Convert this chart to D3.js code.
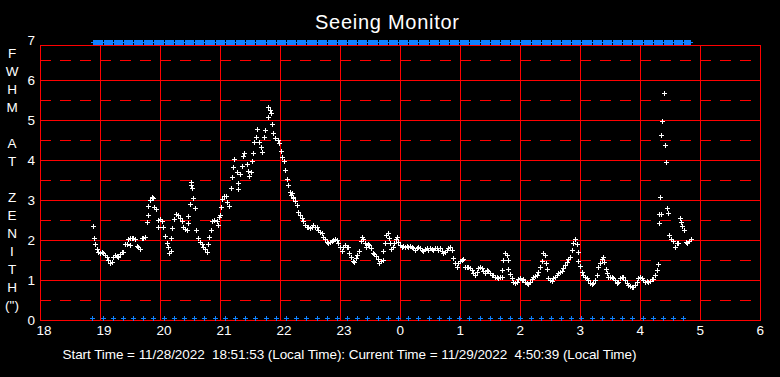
<!DOCTYPE html>
<html><head><meta charset="utf-8">
<script src="https://cdn.jsdelivr.net/npm/d3@7"></script>
<style>
html,body{margin:0;padding:0;background:#000;}
svg{display:block;background:#000;}
text{font-family:"Liberation Sans",Arial,sans-serif;fill:#fff;}
</style></head><body>
<svg id="chart" width="780" height="377"></svg>
<script>
// ---------------- data ----------------
const chartTitle = "Seeing Monitor";
const footerText = "Start Time = 11/28/2022  18:51:53 (Local Time): Current Time = 11/29/2022  4:50:39 (Local Time)";
const yTitleLetters = ["F","W","H","M","","A","T","","Z","E","N","I","T","H","(\")"];

// x axis: minutes after 18:00 local time
const hourTicks  = [0,60,120,180,240,300,360,420,480,540,600,660,720];
const hourLabels = ["18","19","20","21","22","23","0","1","2","3","4","5","6"];
// y axis: FWHM at zenith (arcsec)
const fwhmTicks  = [0,1,2,3,4,5,6,7];
const fwhmLabels = ["0","1","2","3","4","5","6","7"];
const halfTicks  = [0.5,1.5,2.5,3.5,4.5,5.5,6.5];

// [minutes after 18:00, FWHM]
const fwhmSamples = [
[53.3,2.35],[54.3,2.05],[55.3,1.9],[56.7,1.77],[58.3,1.71],[60,1.67],[61.7,1.69],[63.3,1.67],[65,1.63],[66.7,1.58],
[68.3,1.5],[70,1.42],[71.7,1.46],[73.3,1.58],[75,1.63],[76.7,1.6],[78.3,1.58],[80,1.65],[81.7,1.69],[83.3,1.71],
[85,1.9],[86.7,1.9],[88.3,2.02],[90,2.04],[91.7,2.06],[93.3,2.04],[95,2.02],[90,1.87],[96.7,1.85],[98.3,1.83],
[100,1.77],[101.7,2.04],[103.3,2.06],[105,2.08],[106.7,2.44],[108.3,2.63],[108.3,2.86],[110,3.0],[111.7,3.08],[113.3,3.04],
[114.3,2.83],[116,2.78],[118.3,2.5],[120,2.52],[121.7,2.48],[118.3,2.32],[122.7,2.32],[125.3,2.1],[126.7,1.93],[127.7,1.82],
[129.3,1.67],[131,1.72],[131.3,2.06],[132.3,2.3],[133.7,2.52],[136,2.65],[137.7,2.63],[139.7,2.56],[141.7,2.48],[143.3,2.33],
[145,2.27],[146.7,2.25],[147.7,2.42],[148.3,2.6],[149.7,2.9],[151,3.38],[152.3,3.29],[150.7,3.46],[153.3,3.04],[155.3,2.79],
[156.3,2.25],[158.3,2.04],[160,1.96],[161.7,1.9],[163.3,1.83],[165,1.77],[166.7,1.71],[168.3,1.9],[169.3,2.07],[170.7,2.25],
[172.3,2.48],[174.3,2.49],[176.7,2.48],[177.7,2.38],[179,2.57],[180.3,2.63],[181.3,2.83],[182.3,3.02],[183.7,3.1],[185.7,3.1],
[187.3,2.96],[189,2.85],[190.7,3.29],[192,3.58],[193,3.82],[194.3,4.03],[196.7,3.71],[198.3,3.27],[198.3,3.42],[200,3.65],
[201.7,3.85],[203.3,4.1],[204.3,4.17],[206.7,3.9],[207.7,3.73],[209,3.6],[210.7,3.71],[212.3,3.98],[213.3,4.17],[214.3,4.46],
[216.3,4.58],[217.3,4.77],[219,4.46],[221,4.32],[222.3,4.21],[223.7,4.57],[225,4.75],[227.7,5.07],[228.3,5.32],[230,5.25],
[231,5.17],[232.3,4.9],[233.3,4.68],[235,4.54],[237.7,4.5],[239.3,4.43],[240.7,4.23],[242.3,4.08],[243.7,3.98],[245,3.75],
[247,3.52],[248.3,3.38],[249.7,3.21],[251,3.13],[253,3.04],[251.7,3.17],[253.3,3.08],[255,2.98],[256.7,2.88],[258.3,2.71],
[260,2.63],[261.7,2.54],[263.3,2.48],[265,2.38],[266.7,2.33],[268.3,2.32],[270,2.29],[271.7,2.33],[273.3,2.38],[275,2.33],
[276.7,2.32],[278.3,2.25],[280,2.21],[281.7,2.18],[283.3,2.08],[285,2.02],[286.7,1.96],[288.3,1.92],[290,1.94],[291.7,1.98],
[293.3,2.0],[295,2.02],[296.7,2.0],[298.3,1.92],[300,1.83],[301.7,1.73],[303.3,1.82],[305,1.88],[306.7,1.83],[308.3,1.83],
[309.3,1.68],[311,1.58],[312.7,1.48],[314.3,1.46],[315.7,1.54],[317.3,1.63],[319,1.73],[320.7,1.98],[321.7,2.08],[323.3,2.02],
[325,1.92],[326,1.83],[327.7,1.9],[329.3,1.88],[331,1.81],[332.7,1.67],[334.3,1.65],[336,1.6],[337.7,1.53],[339.3,1.43],
[341,1.48],[342.7,1.5],[343.3,1.73],[344.7,1.92],[346,2.13],[347.7,2.18],[349.3,2.04],[350,1.92],[351.3,1.77],[352.7,1.83],
[354,1.92],[355.7,2.02],[357.3,2.08],[358.3,1.96],[360,1.88],[361.7,1.83],[363.3,1.85],[365,1.83],[366.7,1.85],[368.3,1.82],
[370,1.85],[371.7,1.83],[373.3,1.81],[375,1.75],[376.7,1.79],[378.3,1.83],[380,1.79],[381.7,1.75],[383.3,1.73],[385,1.77],
[386.7,1.79],[388.3,1.75],[390,1.79],[391.7,1.77],[393.3,1.75],[395,1.79],[396.7,1.79],[398.3,1.75],[400,1.79],[401.7,1.73],
[403.3,1.68],[405,1.71],[406.7,1.75],[408.3,1.79],[410,1.83],[411.7,1.75],[413.3,1.54],[415,1.42],[416.7,1.32],[418.3,1.42],
[420,1.48],[421.7,1.5],[423.3,1.52],[425,1.33],[426.7,1.32],[428.3,1.32],[430,1.29],[431.7,1.25],[433.3,1.18],[435,1.13],
[436.7,1.21],[438.3,1.29],[440,1.33],[441.7,1.29],[443.3,1.23],[445,1.18],[446.7,1.25],[448.3,1.23],[450,1.17],[451.7,1.13],
[453.3,1.13],[455,1.08],[456.7,1.07],[458.3,1.04],[460,1.08],[461.7,1.25],[462.3,1.08],[463.3,1.5],[465,1.67],[466.7,1.63],
[467.7,1.5],[468.3,1.27],[470,1.15],[471.7,1.04],[473.3,0.96],[475,0.92],[476.7,0.96],[478.3,1.02],[480,1.04],[481.7,1.0],
[483.3,1.02],[485,0.96],[486.7,0.93],[488.3,0.9],[490,0.96],[491.7,1.02],[493.3,1.07],[495,1.1],[496.7,1.13],[498.3,1.21],
[500,1.33],[501.7,1.48],[503.3,1.67],[505,1.63],[505.7,1.42],[507.3,1.27],[508.3,1.04],[510,1.0],[511.7,0.98],[513.3,1.04],
[515,1.08],[516.7,1.13],[518.3,1.17],[520,1.21],[521.7,1.23],[523.3,1.29],[525,1.38],[526.7,1.46],[528.3,1.52],[530,1.57],
[531.7,1.75],[533.3,1.92],[535,2.02],[536.7,1.9],[537.7,1.71],[538.3,1.48],[540,1.35],[541.7,1.21],[543.3,1.13],[545,1.08],
[546.7,1.04],[548.3,1.0],[550,0.93],[551.7,0.9],[553.3,0.93],[555,1.0],[556.7,1.13],[558.3,1.32],[560,1.43],[561.7,1.52],
[563.3,1.57],[564.3,1.46],[565.7,1.27],[567,1.17],[568.3,1.08],[570,1.07],[571.7,1.08],[573.3,1.04],[575,1.0],[576.7,0.92],
[578.3,0.96],[580,1.04],[581.7,1.08],[583.3,1.07],[585,1.0],[586.7,0.93],[588.3,0.88],[590,0.85],[591.7,0.83],[593.3,0.82],
[595,0.88],[596.7,0.96],[598.3,1.04],[600,1.08],[601.7,1.04],[603.3,1.0],[605,0.96],[606.7,0.98],[608.3,0.96],[610,0.98],
[611.7,1.02],[613.3,1.02],[615,1.13],[616.7,1.25],[618.3,1.4],[619.3,2.42],[619.3,2.64],[620.3,3.07],[621,2.65],[621.3,4.62],
[622.3,4.97],[624.3,5.67],[625.3,4.37],[626.3,3.94],[627.3,2.79],[628.3,2.67],[629,2.13],[631,2.02],[632.7,1.98],[635,1.83],
[636.7,1.92],[638.3,1.93],[640,2.54],[641,2.46],[642.3,2.35],[644.3,2.25],[645.7,1.96],[647.3,1.92],[649,1.98],[650.7,2.02]
];

// status flag times (minutes after 18:00)
const flagMinutes = [52.3,62.5,72.7,82.9,93.1,103.3,113.4,123.6,133.8,144.0,154.2,164.4,174.6,184.8,195.0,205.2,215.3,225.5,
235.7,245.9,256.1,266.3,276.5,286.7,296.9,307.1,317.2,327.4,337.6,347.8,358.0,368.2,378.4,388.6,398.8,409.0,419.1,429.3,
439.5,449.7,459.9,470.1,480.3,490.5,500.7,510.9,521.0,531.2,541.4,551.6,561.8,572.0,582.2,592.4,602.6,612.8,622.9,633.1,643.3];

// ---------------- drawing ----------------
const svg = d3.select("#chart");
const x = d3.scaleLinear().domain([0, 720]).range([40, 760]);
const y = d3.scaleLinear().domain([0, 7]).range([320, 40]);
const RED = "#ff0000", BLUE = "#0f82ff";
const frameTop = y(7) + 5;
const px = v => Math.round(v) + 0.5;

const grid = svg.append("g").attr("shape-rendering", "crispEdges");
// dashed half lines
grid.selectAll(".half").data(halfTicks).join("line")
  .attr("x1", x(0)).attr("x2", x(720))
  .attr("y1", d => px(y(d))).attr("y2", d => px(y(d)))
  .attr("stroke", RED).attr("stroke-width", 1).attr("stroke-dasharray", "11,9");
// solid horizontal lines
grid.selectAll(".hline").data(fwhmTicks.filter(d => d > 0 && d < 7)).join("line")
  .attr("x1", x(0)).attr("x2", x(720))
  .attr("y1", d => px(y(d))).attr("y2", d => px(y(d)))
  .attr("stroke", RED).attr("stroke-width", 1);
// vertical hour lines
grid.selectAll(".vline").data(hourTicks).join("line")
  .attr("x1", d => px(x(d))).attr("x2", d => px(x(d)))
  .attr("y1", frameTop).attr("y2", y(0))
  .attr("stroke", RED).attr("stroke-width", 1);
// frame top & bottom
grid.append("line").attr("x1", x(0)).attr("x2", x(720) + 1)
  .attr("y1", px(frameTop)).attr("y2", px(frameTop)).attr("stroke", RED);
grid.append("line").attr("x1", x(0)).attr("x2", x(720) + 1)
  .attr("y1", px(y(0))).attr("y2", px(y(0))).attr("stroke", RED);

// top status band
const lastT = fwhmSamples[fwhmSamples.length - 1][0];
const bandEnds = flagMinutes.map((d, i) => i < flagMinutes.length - 1 ? flagMinutes[i + 1] : lastT);
const band = svg.append("g").attr("shape-rendering", "crispEdges");
band.append("rect").attr("x", x(flagMinutes[0]) - 1.5).attr("y", y(7) + 2)
  .attr("width", x(lastT) + 2 - (x(flagMinutes[0]) - 1.5)).attr("height", 1).attr("fill", BLUE);
band.selectAll(".seg").data(flagMinutes).join("rect")
  .attr("x", d => Math.round(x(d)) + 1)
  .attr("y", y(7))
  .attr("width", (d, i) => Math.max(1, Math.round(x(bandEnds[i])) - Math.round(x(d)) - 1))
  .attr("height", 5).attr("fill", BLUE);

// bottom status markers
const plus = "M-2.5,0H2.5M0,-2.5V2.5";
svg.append("g").selectAll("path").data(flagMinutes).join("path")
  .attr("d", plus)
  .attr("transform", d => `translate(${px(x(d))},${px(y(0) - 2.5)})`)
  .attr("stroke", BLUE).attr("stroke-width", 1).attr("fill", "none")
  .attr("shape-rendering", "crispEdges");

// FWHM samples
svg.append("g").selectAll("path").data(fwhmSamples).join("path")
  .attr("d", plus)
  .attr("transform", d => `translate(${px(x(d[0]))},${px(y(d[1]))})`)
  .attr("stroke", "#fff").attr("stroke-width", 1).attr("fill", "none")
  .attr("shape-rendering", "crispEdges");

// axes (labels only)
const xAxis = d3.axisBottom(x).tickValues(hourTicks)
  .tickFormat((d, i) => hourLabels[i]).tickSize(0);
const gx = svg.append("g").attr("transform", `translate(0,${y(0)})`).call(xAxis);
gx.select(".domain").remove();
gx.attr("font-size", null).attr("font-family", null);
gx.selectAll("text").attr("y", 15).attr("dy", null).attr("x", -4)
  .attr("text-anchor", "start").style("font-size", "13.5px").attr("fill", "#fff");

const yAxis = d3.axisLeft(y).tickValues(fwhmTicks)
  .tickFormat((d, i) => fwhmLabels[i]).tickSize(0).tickPadding(0);
const gy = svg.append("g").attr("transform", "translate(35,0)").call(yAxis);
gy.select(".domain").remove();
gy.attr("font-size", null).attr("font-family", null);
gy.selectAll("text").attr("dy", "0.36em").attr("x", 0)
  .style("font-size", "13.5px").attr("fill", "#fff");

// vertical axis title (stacked letters)
svg.append("g").selectAll("text").data(yTitleLetters).join("text")
  .attr("x", 12).attr("y", (d, i) => 57.5 + i * 18)
  .attr("text-anchor", "middle").style("font-size", "13.5px")
  .text(d => d);

// title
svg.append("text").attr("x", 387).attr("y", 29.3).attr("text-anchor", "middle")
  .style("font-size", "20px").attr("textLength", 144).attr("lengthAdjust", "spacing")
  .text(chartTitle);

// footer
svg.append("text").attr("x", 62.5).attr("y", 359)
  .style("font-size", "13.5px").style("white-space", "pre")
  .attr("textLength", 574).attr("lengthAdjust", "spacing")
  .text(footerText);
</script>
</body></html>
